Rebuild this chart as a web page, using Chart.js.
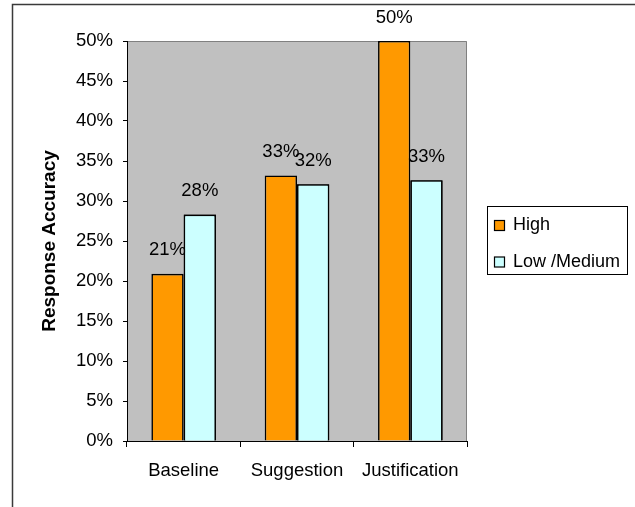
<!DOCTYPE html>
<html>
<head>
<meta charset="utf-8">
<script src="https://cdn.jsdelivr.net/npm/chart.js@4/dist/chart.umd.min.js"></script>
<style>
  html, body { margin: 0; padding: 0; background: #fff; }
  canvas { display: block; }
</style>
</head>
<body>
<canvas id="chart" width="635" height="507"></canvas>
<script>
// Response accuracy by condition, split by expertise group
const categories = ['Baseline', 'Suggestion', 'Justification'];
const seriesNames = ['High', 'Low /Medium'];
const highValues = [20.9, 33.2, 50.0];
const lowMediumValues = [28.3, 32.1, 32.6];
const yAxisTitle = 'Response Accuracy';
const yMin = 0;
const yMax = 50;
const yStep = 5;

const FONT = '"Liberation Sans", Arial, sans-serif';

// Grey plot area with darker top/right edge
const plotBackground = {
  id: 'plotBackground',
  beforeDraw(chart) {
    const { ctx, chartArea: a } = chart;
    ctx.save();
    ctx.fillStyle = '#C0C0C0';
    ctx.fillRect(a.left, a.top, a.right - a.left, a.bottom - a.top);
    ctx.strokeStyle = '#808080';
    ctx.lineWidth = 1;
    ctx.beginPath();
    ctx.moveTo(a.left, a.top + 0.5);
    ctx.lineTo(a.right - 0.5, a.top + 0.5);
    ctx.lineTo(a.right - 0.5, a.bottom);
    ctx.stroke();
    ctx.restore();
  }
};

function drawSeriesLabels(chart, index) {
  const { ctx } = chart;
  const meta = chart.getDatasetMeta(index);
  const ds = chart.data.datasets[index];
  ctx.save();
  ctx.fillStyle = '#000';
  ctx.font = '18.5px ' + FONT;
  ctx.textAlign = 'center';
  ctx.textBaseline = 'middle';
  meta.data.forEach((bar, i) => {
    ctx.fillText(Math.round(ds.data[i]) + '%', bar.x, bar.y - 23.5);
  });
  ctx.restore();
}

// Percentage labels above bars: series one by one, each series' bars
// painted before its own labels so later series sit over earlier labels
const barValueLabels = {
  id: 'barValueLabels',
  afterDatasetsDraw(chart) {
    const n = chart.data.datasets.length;
    for (let i = 0; i < n; i++) {
      if (i > 0) chart.getDatasetMeta(i).controller.draw();
      drawSeriesLabels(chart, i);
    }
  }
};

// Boxed legend on the right and the outer frame
const boxedLegend = {
  id: 'boxedLegend',
  afterDraw(chart) {
    const { ctx } = chart;
    ctx.save();
    ctx.strokeStyle = '#000';
    ctx.lineWidth = 1;
    ctx.strokeRect(487.5, 206.5, 140, 68);
    ctx.font = '18px ' + FONT;
    ctx.textAlign = 'left';
    ctx.textBaseline = 'alphabetic';
    const rows = [220.5, 257];
    chart.data.datasets.forEach((ds, i) => {
      const y = rows[i];
      ctx.fillStyle = ds.backgroundColor;
      ctx.fillRect(494.5, y, 10, 10);
      ctx.strokeStyle = '#000';
      ctx.lineWidth = 1.2;
      ctx.strokeRect(494.5, y, 10, 10);
      ctx.fillStyle = '#000';
      ctx.fillText(ds.label, 513, y + 9.5);
    });
    ctx.strokeStyle = '#3a3a3a';
    ctx.lineWidth = 1.5;
    ctx.strokeRect(12.5, 4.5, 700, 600);
    ctx.restore();
  }
};

new Chart(document.getElementById('chart'), {
  type: 'bar',
  data: {
    labels: categories,
    datasets: [
      {
        label: seriesNames[0],
        data: highValues,
        backgroundColor: '#FF9900',
        borderColor: '#000',
        borderWidth: 1.6
      },
      {
        label: seriesNames[1],
        data: lowMediumValues,
        backgroundColor: '#CCFFFF',
        borderColor: '#000',
        borderWidth: 1.6
      }
    ]
  },
  options: {
    responsive: false,
    animation: false,
    devicePixelRatio: 1,
    layout: { padding: { left: 0, top: 41, right: 168, bottom: 0 } },
    plugins: {
      legend: { display: false },
      tooltip: { enabled: false }
    },
    datasets: {
      bar: { categoryPercentage: 0.57, barPercentage: 1.0 }
    },
    scales: {
      x: {
        offset: true,
        grid: {
          offset: true,
          drawOnChartArea: false,
          drawTicks: true,
          tickLength: 6,
          color: '#000'
        },
        border: { display: true, color: '#000', width: 1 },
        ticks: {
          color: '#000',
          font: { family: FONT, size: 18.5 },
          padding: 13,
          maxRotation: 0
        },
        afterFit(scale) { scale.height = 66; }
      },
      y: {
        min: yMin,
        max: yMax,
        grid: {
          drawOnChartArea: false,
          drawTicks: true,
          tickLength: 4,
          color: '#000'
        },
        border: { display: true, color: '#000', width: 1 },
        ticks: {
          stepSize: yStep,
          color: '#000',
          font: { family: FONT, size: 18.5 },
          padding: 10,
          callback: v => v + '%'
        },
        title: {
          display: true,
          text: yAxisTitle,
          color: '#000',
          font: { family: FONT, size: 19, weight: 'bold' },
          padding: { top: 38, bottom: 0 }
        },
        afterFit(scale) { scale.width = 127; }
      }
    }
  },
  plugins: [plotBackground, barValueLabels, boxedLegend]
});
</script>
</body>
</html>
